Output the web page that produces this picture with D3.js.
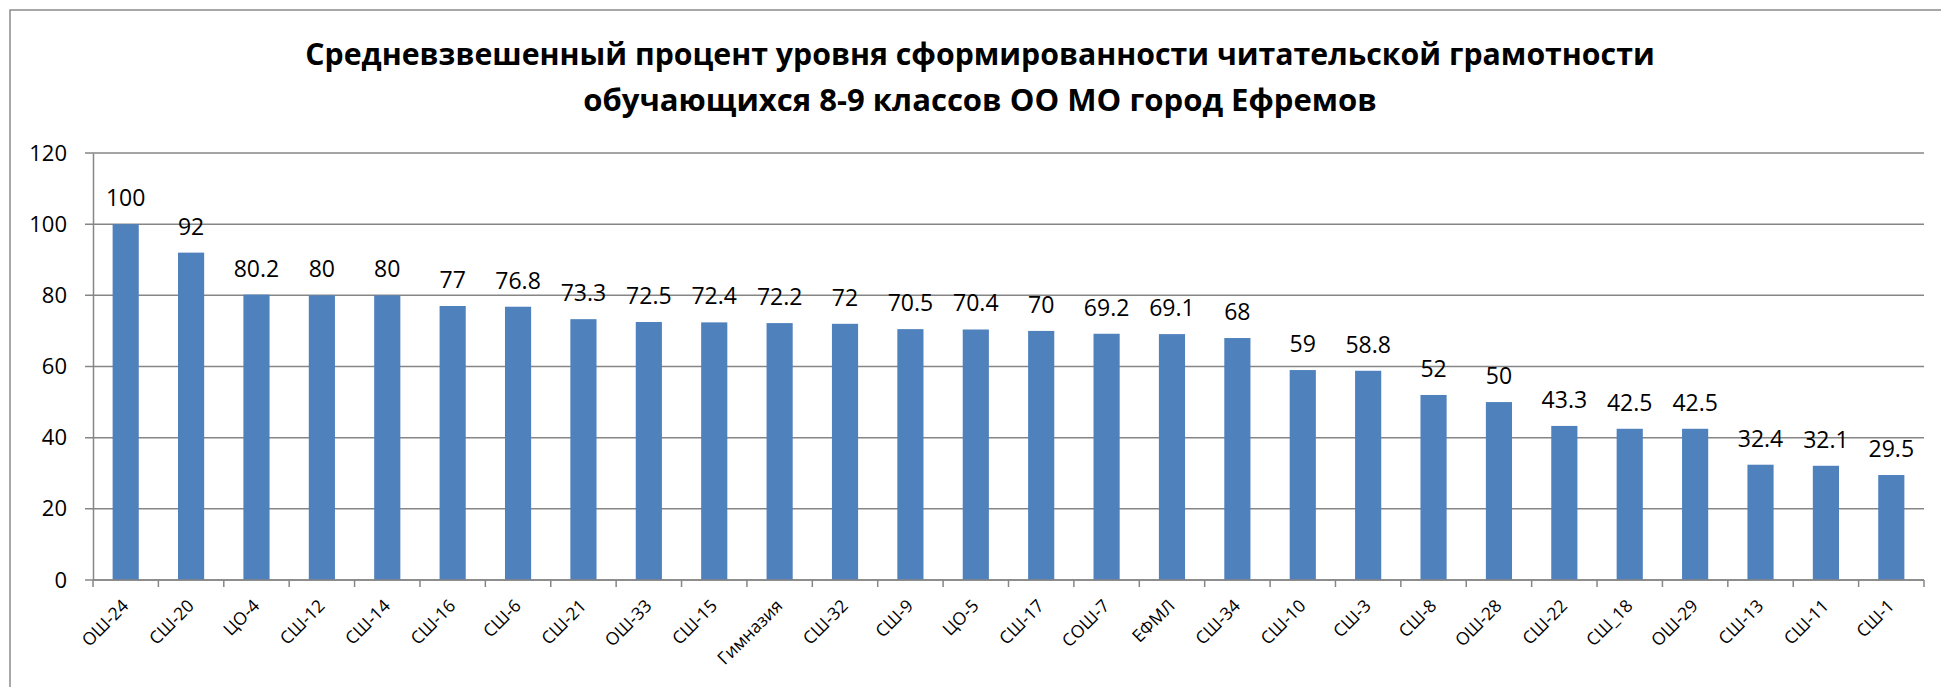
<!DOCTYPE html>
<html>
<head>
<meta charset="utf-8">
<script src="https://cdn.jsdelivr.net/npm/d3@7"></script>
<style>
  body { margin: 0; background: #fff; }
  text { font-family: "Open Sans", sans-serif; fill: #000; }
</style>
</head>
<body>
<div class="chart"></div>
<script>
const schools = ['ОШ-24', 'СШ-20', 'ЦО-4', 'СШ-12', 'СШ-14', 'СШ-16', 'СШ-6', 'СШ-21', 'ОШ-33', 'СШ-15',
    'Гимназия', 'СШ-32', 'СШ-9', 'ЦО-5', 'СШ-17', 'СОШ-7', 'ЕФМЛ', 'СШ-34', 'СШ-10', 'СШ-3',
    'СШ-8', 'ОШ-28', 'СШ-22', 'СШ_18', 'ОШ-29', 'СШ-13', 'СШ-11', 'СШ-1'];
const percents = [100, 92, 80.2, 80, 80, 77, 76.8, 73.3, 72.5, 72.4,
    72.2, 72, 70.5, 70.4, 70, 69.2, 69.1, 68, 59, 58.8,
    52, 50, 43.3, 42.5, 42.5, 32.4, 32.1, 29.5];
const yTicks = [0, 20, 40, 60, 80, 100, 120];
const titleLines = [
    'Средневзвешенный процент уровня сформированности читательской грамотности',
    'обучающихся 8-9 классов ОО МО город Ефремов'
];

const width = 1941, height = 687;
const plot = { left: 93, right: 1924, top: 153, bottom: 580 };
const gray = '#868686';
const barColor = '#4f81bd';

const svg = d3.select('.chart')
    .append('svg')
    .attr('width', width)
    .attr('height', height);

// рамка диаграммы (правая и нижняя сторона за кадром)
svg.append('path')
    .attr('d', `M10,${height + 5}V10H${width + 5}`)
    .attr('fill', 'none')
    .attr('stroke', '#8c8c8c')
    .attr('stroke-width', 1.5);

// заголовок, ширина строк подогнана под оригинал
const title = svg.append('g')
    .attr('font-weight', 'bold')
    .attr('text-anchor', 'middle');
const titleWidths = [1350, 794];
titleLines.forEach((line, i) => {
    const t = title.append('text')
        .attr('x', 980)
        .attr('y', 65 + i * 46)
        .attr('font-size', 30)
        .text(line);
    const w = t.node().getComputedTextLength();
    t.attr('font-size', 30 * titleWidths[i] / w);
});

const x = d3.scaleBand()
    .domain(schools)
    .range([plot.left, plot.right])
    .paddingInner(0.6)
    .paddingOuter(0.3);

const y = d3.scaleLinear()
    .domain([0, 120])
    .range([plot.bottom, plot.top]);

// сетка
svg.append('g')
    .selectAll('line')
    .data(yTicks)
    .enter()
    .append('line')
    .attr('x1', plot.left - 8)
    .attr('x2', plot.right)
    .attr('y1', d => y(d))
    .attr('y2', d => y(d))
    .attr('stroke', gray)
    .attr('stroke-width', 1.5);

// ось Y
const yAxis = d3.axisLeft(y)
    .tickValues(yTicks)
    .tickSize(0)
    .tickPadding(26);
svg.append('g')
    .attr('transform', `translate(${plot.left},0)`)
    .call(yAxis)
    .call(g => g.select('.domain').attr('stroke', gray).attr('stroke-width', 1.5))
    .call(g => g.selectAll('text')
        .attr('font-size', 22)
        .attr('font-family', '"Open Sans", sans-serif'));

// столбцы
svg.append('g')
    .selectAll('rect')
    .data(schools)
    .enter()
    .append('rect')
    .attr('x', d => x(d))
    .attr('y', (d, i) => y(percents[i]))
    .attr('width', x.bandwidth())
    .attr('height', (d, i) => y(0) - y(percents[i]))
    .attr('fill', barColor);

// подписи значений
svg.append('g')
    .attr('text-anchor', 'middle')
    .selectAll('text')
    .data(schools)
    .enter()
    .append('text')
    .attr('x', d => x(d) + x.bandwidth() / 2)
    .attr('y', (d, i) => y(percents[i]) - 18)
    .attr('font-size', 23)
    .text((d, i) => percents[i]);

// ось X: деления между категориями
const boundaries = d3.range(schools.length + 1).map(i => plot.left + i * (plot.right - plot.left) / schools.length);
svg.append('g')
    .selectAll('line')
    .data(boundaries)
    .enter()
    .append('line')
    .attr('x1', d => d)
    .attr('x2', d => d)
    .attr('y1', plot.bottom)
    .attr('y2', plot.bottom + 7)
    .attr('stroke', gray)
    .attr('stroke-width', 1.5);

svg.append('line')
    .attr('x1', plot.left)
    .attr('x2', plot.right)
    .attr('y1', plot.bottom)
    .attr('y2', plot.bottom)
    .attr('stroke', gray)
    .attr('stroke-width', 1.5);

// подписи категорий под углом 45°
svg.append('g')
    .attr('text-anchor', 'end')
    .selectAll('text')
    .data(schools)
    .enter()
    .append('text')
    .attr('transform', d => `translate(${x(d) + x.bandwidth() / 2 + 4},${plot.bottom + 27}) rotate(-45)`)
    .attr('font-size', 17.5)
    .text(d => d);
</script>
</body>
</html>
